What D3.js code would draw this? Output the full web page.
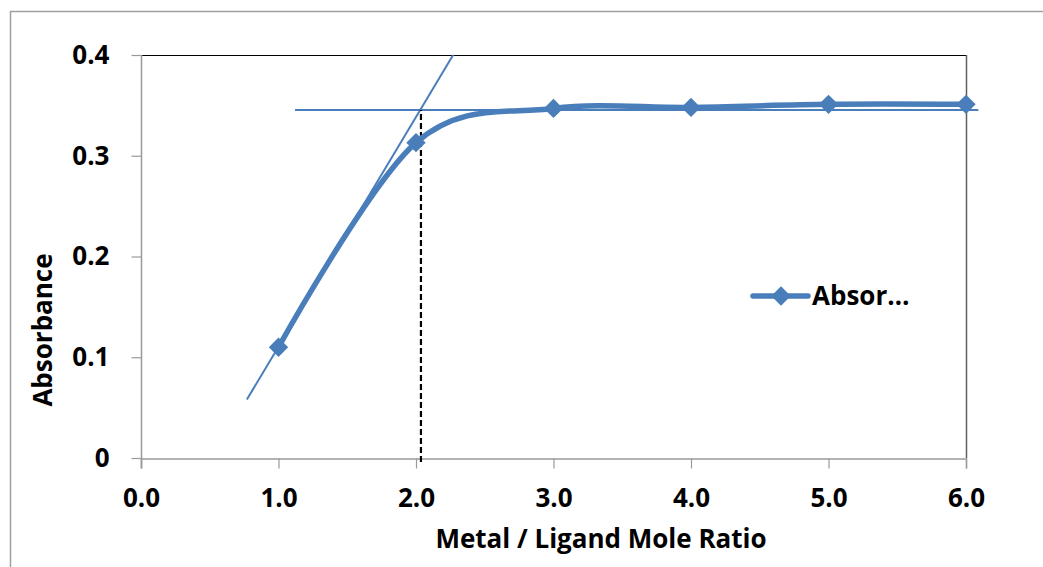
<!DOCTYPE html>
<html>
<head>
<meta charset="utf-8">
<script src="https://cdn.jsdelivr.net/npm/d3@7"></script>
<style>
  body { margin: 0; background: #fff; }
  text { font-family: "Open Sans", "Liberation Sans", sans-serif; font-weight: bold; fill: #000; }
</style>
</head>
<body>
<div id="app"></div>
<script>
// data
const ratios = [1, 2, 3, 4, 5, 6];
const absorbance = [0.110, 0.313, 0.347, 0.348, 0.351, 0.351];
const xTicks = [0, 1, 2, 3, 4, 5, 6];
const yTicks = [0, 0.1, 0.2, 0.3, 0.4];
// hand-drawn construction lines (data units)
const slopeLine = [[0.77, 0.058], [2.27, 0.4]];
const plateauLine = [[1.12, 0.3455], [6.09, 0.3455]];
const endPoint = [[2.036, -0.004], [2.036, 0.3455]];

const WIDTH = 1043, HEIGHT = 567;
const blue = '#4a7ebb';
const FONT = '26px';

const svg = d3.select('#app')
  .append('svg')
    .attr('width', WIDTH)
    .attr('height', HEIGHT);

// chart frame
svg.append('rect')
  .attr('x', 10.5).attr('y', 11.5)
  .attr('width', WIDTH + 10).attr('height', HEIGHT + 10)
  .attr('fill', 'none')
  .attr('stroke', '#a0a0a0')
  .attr('stroke-width', 1.5);

const x = d3.scaleLinear().domain([0, 6]).range([141, 966]);
const y = d3.scaleLinear().domain([0, 0.4]).range([458, 55]);

// plot border: top black, right dark gray
svg.append('line')
  .attr('x1', x(0)).attr('x2', x(6))
  .attr('y1', y(0.4) + 0.5).attr('y2', y(0.4) + 0.5)
  .attr('stroke', '#000').attr('stroke-width', 1);
svg.append('line')
  .attr('x1', x(6) + 0.5).attr('x2', x(6) + 0.5)
  .attr('y1', y(0.4)).attr('y2', y(0))
  .attr('stroke', '#5f5f5f').attr('stroke-width', 1.5);

// axes
const xAxis = svg.append('g')
  .attr('transform', `translate(0,${y(0) + 0.5})`)
  .call(d3.axisBottom(x).tickValues(xTicks).tickFormat(d3.format('.1f')).tickSize(10).tickPadding(20));
const yAxis = svg.append('g')
  .attr('transform', `translate(${x(0) + 0.5},0)`)
  .call(d3.axisLeft(y).tickValues(yTicks).tickFormat(d => d === 0 ? '0' : d3.format('.1f')(d)).tickSize(10).tickPadding(22));

[xAxis, yAxis].forEach(g => {
  g.selectAll('.domain').attr('stroke', '#9a9a9a').attr('stroke-width', 1.5);
  g.selectAll('.tick line').attr('stroke', '#9a9a9a').attr('stroke-width', 1.2);
  g.selectAll('text').style('font-size', FONT).attr('fill', '#000');
});
yAxis.select('.domain').attr('d', `M0,${y(0.4)}V${y(0) + 10}`);

// axis titles
svg.append('text')
  .attr('x', 601).attr('y', 548)
  .attr('text-anchor', 'middle')
  .style('font-size', FONT)
  .text('Metal / Ligand Mole Ratio');
svg.append('text')
  .attr('transform', 'translate(52,330) rotate(-90)')
  .attr('text-anchor', 'middle')
  .style('font-size', FONT)
  .text('Absorbance');

const line = d3.line().x(d => x(d[0])).y(d => y(d[1]));

// construction lines
svg.append('path')
  .attr('d', line(slopeLine))
  .attr('fill', 'none').attr('stroke', blue).attr('stroke-width', 2);
svg.append('path')
  .attr('d', line(plateauLine))
  .attr('fill', 'none').attr('stroke', blue).attr('stroke-width', 2);
svg.append('path')
  .attr('d', line(endPoint))
  .attr('fill', 'none').attr('stroke', '#000').attr('stroke-width', 2.2)
  .attr('stroke-dasharray', '6,3');

// series
const points = ratios.map((r, i) => [r, absorbance[i]]);
svg.append('path')
  .attr('d', d3.line().x(d => x(d[0])).y(d => y(d[1])).curve(d3.curveCatmullRom.alpha(0))(points))
  .attr('fill', 'none')
  .attr('stroke', blue)
  .attr('stroke-width', 5.5)
  .attr('stroke-linejoin', 'round');

const diamond = d3.symbol().type(d3.symbolDiamond2).size(240);
svg.selectAll('.marker')
  .data(points)
  .enter()
  .append('path')
    .attr('transform', d => `translate(${x(d[0])},${y(d[1])})`)
    .attr('d', diamond)
    .attr('fill', blue);

// legend
const leg = svg.append('g').attr('transform', 'translate(753,296)');
leg.append('line')
  .attr('x1', 0).attr('x2', 55)
  .attr('stroke', blue).attr('stroke-width', 5.5).attr('stroke-linecap', 'round');
leg.append('path')
  .attr('transform', 'translate(28,0)')
  .attr('d', diamond)
  .attr('fill', blue);
leg.append('text')
  .attr('x', 59).attr('y', 9)
  .style('font-size', FONT)
  .text('Absor…');
</script>
</body>
</html>
